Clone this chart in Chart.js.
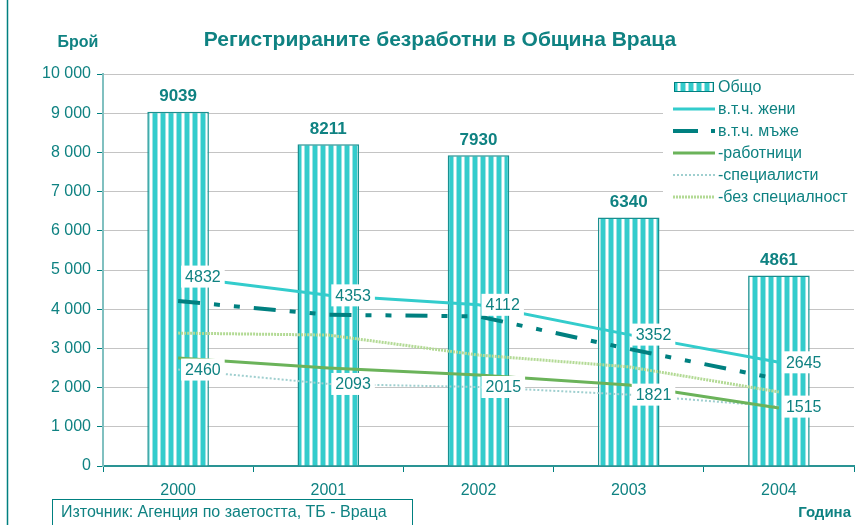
<!DOCTYPE html>
<html>
<head>
<meta charset="utf-8">
<script src="https://cdn.jsdelivr.net/npm/chart.js@4"></script>
<style>
  body { margin: 0; background: #fff; }
  #wrap { width: 857px; height: 525px; position: relative; }
</style>
</head>
<body>
<div id="wrap"><canvas id="chart" width="857" height="525"></canvas></div>
<script>
// data
const years = ['2000', '2001', '2002', '2003', '2004'];
const total = [9039, 8211, 7930, 6340, 4861];
const women = [4832, 4353, 4112, 3352, 2645];
const men = [4207, 3858, 3818, 2988, 2216];
const workers = [2755, 2500, 2320, 2066, 1480];
const specialists = [2460, 2093, 2015, 1821, 1515];
const noSpecialty = [3390, 3340, 2830, 2530, 1890];
const yTicks = [0, 1000, 2000, 3000, 4000, 5000, 6000, 7000, 8000, 9000, 10000];

const teal = '#0f8282',
      turq = '#33cccc',
      dark = '#008080',
      green = '#6bb35a',
      paleTeal = '#9fcfcf',
      paleGreen = '#b3da95';
const font = 'Liberation Sans, Arial, sans-serif';

// vertical stripes for the bars
function stripes() {
  const c = document.createElement('canvas');
  c.width = 8; c.height = 10;
  const g = c.getContext('2d');
  g.fillStyle = '#fff';
  g.fillRect(0, 0, 8, 10);
  g.fillStyle = '#9fe3e3';
  g.fillRect(0, 0, 6, 10);
  g.fillStyle = turq;
  g.fillRect(1, 0, 4, 10);
  return g.createPattern(c, 'repeat');
}
const barFill = stripes();

function fmt(v) {
  return String(v).replace(/\B(?=(\d{3})+(?!\d))/g, ' ');
}

const menDash = [22, 14, 6, 14, 6, 14];

// Legend entries
const legendItems = [
  { text: 'Общо', type: 'box' },
  { text: 'в.т.ч. жени', color: turq, width: 3, dash: [] },
  { text: 'в.т.ч. мъже', color: dark, width: 4, dash: [25, 13, 3, 100] },
  { text: '-работници', color: green, width: 3, dash: [] },
  { text: '-специалисти', color: paleTeal, width: 2, dash: [2, 2] },
  { text: '-без специалност', color: paleGreen, width: 3, dash: [2, 1] }
];

const decorations = {
  id: 'decorations',
  afterDraw(chart) {
    const ctx = chart.ctx;
    ctx.save();
    // outer left frame
    ctx.strokeStyle = dark;
    ctx.lineWidth = 1.5;
    ctx.beginPath();
    ctx.moveTo(7.5, 0); ctx.lineTo(7.5, 525);
    ctx.stroke();

    ctx.fillStyle = teal;
    ctx.textBaseline = 'middle';
    ctx.textAlign = 'center';
    ctx.font = 'bold 21px ' + font;
    ctx.fillText('Регистрираните безработни в Община Враца', 440, 40);
    ctx.font = 'bold 16px ' + font;
    ctx.fillText('Брой', 78, 43);
    ctx.textAlign = 'right';
    ctx.font = 'bold 15px ' + font;
    ctx.fillText('Година', 851, 513);

    // source box
    ctx.strokeStyle = dark;
    ctx.lineWidth = 1;
    ctx.strokeRect(52.5, 499.5, 360, 40);
    ctx.textAlign = 'left';
    ctx.font = '16px ' + font;
    ctx.fillText('Източник: Агенция по заетостта, ТБ - Враца', 61, 513);

    // legend
    ctx.fillStyle = '#fff';
    ctx.fillRect(663, 76, 194, 131);
    legendItems.forEach((it, i) => {
      const y = 87 + i * 22;
      if (it.type === 'box') {
        ctx.fillStyle = barFill;
        ctx.fillRect(674, y - 5, 40, 10);
        ctx.strokeStyle = dark;
        ctx.lineWidth = 1;
        ctx.strokeRect(674.5, y - 4.5, 39, 9);
      } else {
        ctx.strokeStyle = it.color;
        ctx.lineWidth = it.width;
        ctx.setLineDash(it.dash);
        ctx.beginPath();
        ctx.moveTo(673, y); ctx.lineTo(715, y);
        ctx.stroke();
        ctx.setLineDash([]);
        if (i === 2) {
          ctx.fillStyle = dark;
          ctx.fillRect(712, y - 2, 3, 4);
        }
      }
      ctx.fillStyle = teal;
      ctx.font = '16px ' + font;
      ctx.textAlign = 'left';
      ctx.fillText(it.text, 718, y + 1);
    });
    ctx.restore();
  },
  afterDatasetsDraw(chart) {
    const ctx = chart.ctx;
    ctx.save();
    ctx.textBaseline = 'middle';
    // bar totals
    const barMeta = chart.getDatasetMeta(0);
    ctx.font = 'bold 17px ' + font;
    ctx.fillStyle = teal;
    ctx.textAlign = 'center';
    barMeta.data.forEach((b, i) => {
      ctx.fillText(String(total[i]), b.x, b.y - 15);
    });
    // boxed labels for women and specialists
    ctx.font = '16px ' + font;
    ctx.textAlign = 'left';
    [1, 4].forEach(di => {
      const meta = chart.getDatasetMeta(di);
      const vals = chart.data.datasets[di].data;
      meta.data.forEach((p, i) => {
        const t = String(vals[i]);
        const w = ctx.measureText(t).width;
        const x = p.x + 7;
        ctx.fillStyle = '#fff';
        ctx.fillRect(x - 4, p.y - 11, w + 8, 22);
        ctx.fillStyle = teal;
        ctx.fillText(t, x, p.y + 1);
      });
    });
    ctx.restore();
  }
};

new Chart(document.getElementById('chart'), {
  data: {
    labels: years,
    datasets: [
      { type: 'bar', label: 'Общо', data: total, order: 1,
        backgroundColor: barFill, borderColor: '#1a8f8f', borderWidth: 1.5,
        barPercentage: 0.82, categoryPercentage: 0.5 },
      { type: 'line', label: 'в.т.ч. жени', data: women, order: 0,
        borderColor: turq, borderWidth: 3, pointRadius: 0, tension: 0 },
      { type: 'line', label: 'в.т.ч. мъже', data: men, order: 0,
        borderColor: dark, borderWidth: 4, borderDash: menDash, pointRadius: 0 },
      { type: 'line', label: '-работници', data: workers, order: 0,
        borderColor: green, borderWidth: 3, pointRadius: 0 },
      { type: 'line', label: '-специалисти', data: specialists, order: 0,
        borderColor: paleTeal, borderWidth: 2, borderDash: [2, 2], pointRadius: 0 },
      { type: 'line', label: '-без специалност', data: noSpecialty, order: 0,
        borderColor: paleGreen, borderWidth: 3, borderDash: [2, 1], pointRadius: 0 }
    ]
  },
  options: {
    responsive: false,
    animation: false,
    layout: { padding: { top: 74, right: 3, left: 0, bottom: 0 } },
    plugins: {
      legend: { display: false },
      tooltip: { enabled: false },
      title: { display: false }
    },
    scales: {
      x: {
        offset: true,
        afterFit(scale) { scale.height = 59; },
        grid: { offset: true, drawOnChartArea: false, tickLength: 6, tickColor: dark },
        border: { color: '#2a9494', width: 2 },
        ticks: { color: teal, font: { family: font, size: 16 }, padding: 9 }
      },
      y: {
        min: 0, max: 10000,
        afterFit(scale) { scale.width = 103; },
        afterBuildTicks(scale) { scale.ticks = yTicks.map(v => ({ value: v })); },
        grid: { color: '#c4c4c4', tickLength: 6, tickColor: dark },
        border: { color: '#80c0c0', width: 2 },
        ticks: { color: teal, font: { family: font, size: 16 }, padding: 6,
                 callback: v => fmt(v) }
      }
    }
  },
  plugins: [decorations]
});
</script>
</body>
</html>
